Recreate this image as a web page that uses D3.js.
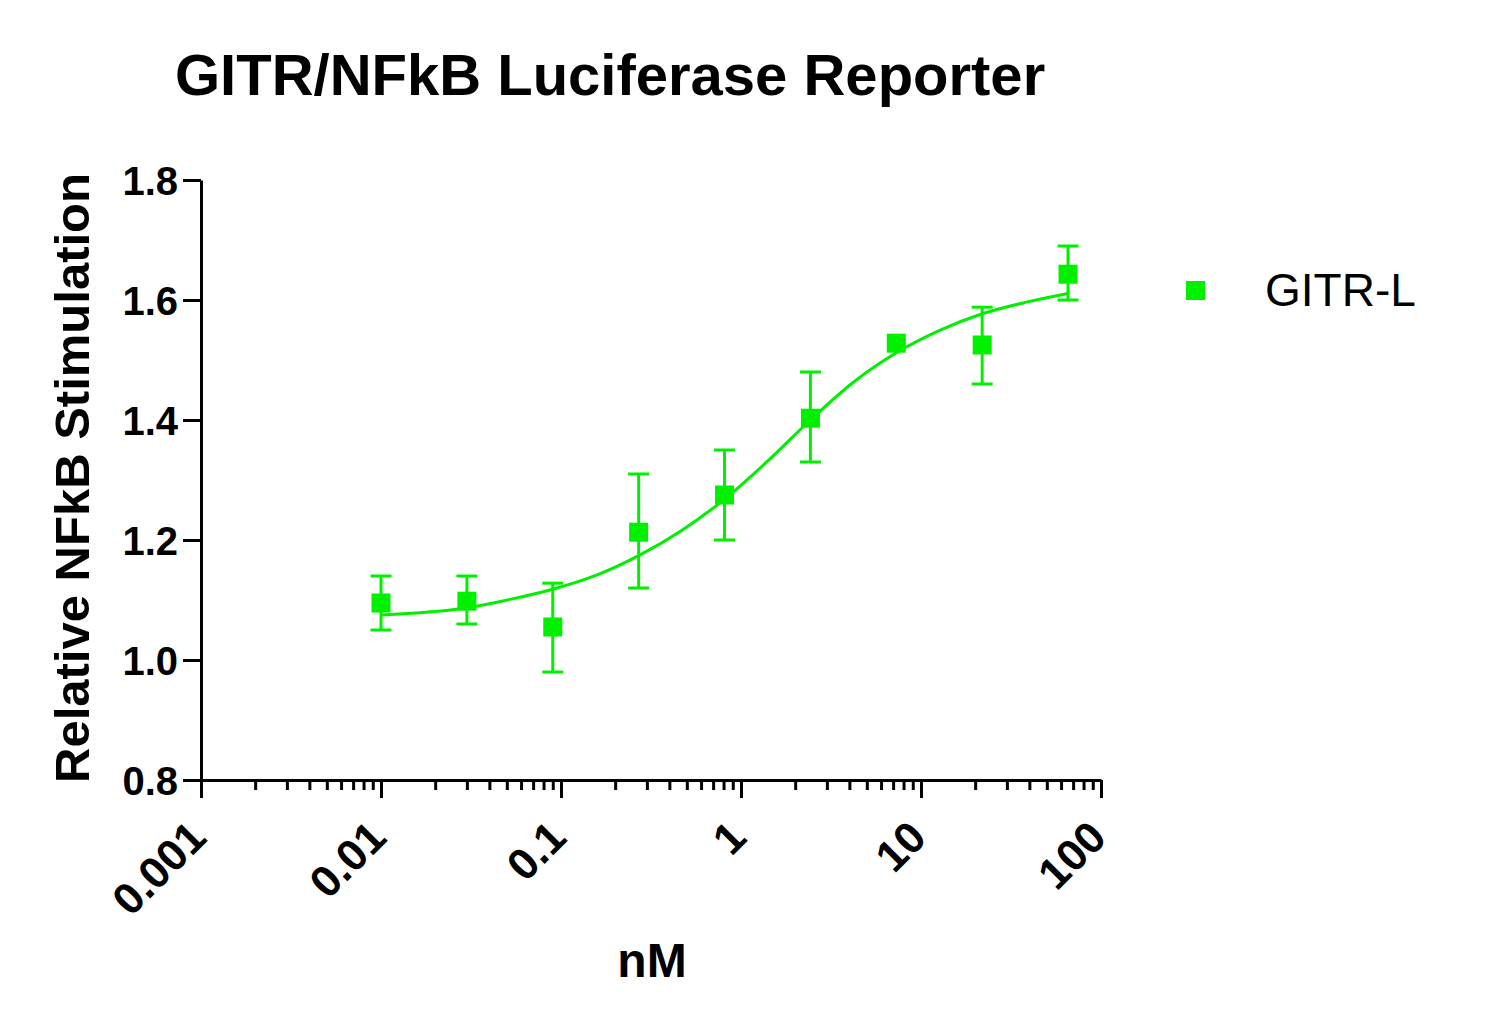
<!DOCTYPE html>
<html>
<head>
<meta charset="utf-8">
<script src="https://cdn.jsdelivr.net/npm/d3@7"></script>
<style>
  body { margin: 0; background: #fff; }
  svg { display: block; font-family: "Liberation Sans", Arial, sans-serif; }
</style>
</head>
<body>
<svg id="chart"></svg>
<script>
// data
var conc = [0.01, 0.03, 0.09, 0.27, 0.81, 2.43, 7.29, 21.87, 65.6];
var meanVals = [1.095, 1.098, 1.055, 1.213, 1.275, 1.403, 1.528, 1.525, 1.643];
var errLow = [1.05, 1.06, 0.98, 1.12, 1.20, 1.33, null, 1.46, 1.60];
var errHigh = [1.14, 1.14, 1.128, 1.31, 1.35, 1.48, null, 1.588, 1.69];

// fitted curve
var curveConc = [0.01, 0.03, 0.052, 0.09, 0.156, 0.27, 0.468, 0.81, 1.40, 2.43, 4.21, 7.29, 12.6, 21.9, 37.9, 65.6];
var curveVals = [1.075, 1.087, 1.101, 1.118, 1.141, 1.174, 1.216, 1.268, 1.331, 1.400, 1.463, 1.512, 1.549, 1.577, 1.596, 1.611];

var xTicks = [0.001, 0.01, 0.1, 1, 10, 100];
var xTickLabels = ["0.001", "0.01", "0.1", "1", "10", "100"];
var yTicks = [0.8, 1.0, 1.2, 1.4, 1.6, 1.8];
var seriesName = "GITR-L";
var titleText = "GITR/NFkB Luciferase Reporter";
var xTitle = "nM";
var yTitle = "Relative NFkB Stimulation";

var width = 1506, height = 1032;
var green = "#00f000";
var plotLeft = 201, plotRight = 1101, plotTop = 180, plotBottom = 780;

var svg = d3.select('#chart')
  .attr('width', width)
  .attr('height', height);

var x = d3.scaleLog().domain([0.001, 100]).range([plotLeft, plotRight]);
var y = d3.scaleLinear().domain([0.8, 1.8]).range([plotBottom, plotTop]);

// minor ticks on the log axis
var minorTicks = [];
for (var p = -3; p < 2; ++p) {
  for (var m = 2; m < 10; ++m) {
    minorTicks.push(m * Math.pow(10, p));
  }
}

var gxMinor = svg.append('g')
  .attr('transform', 'translate(0,' + plotBottom + ')')
  .call(d3.axisBottom(x).tickValues(minorTicks).tickSize(10).tickSizeOuter(0).tickFormat(''));
gxMinor.select('.domain').remove();

var gx = svg.append('g')
  .attr('transform', 'translate(0,' + plotBottom + ')')
  .call(d3.axisBottom(x).tickValues(xTicks).tickSize(18).tickSizeOuter(0)
    .tickFormat(function (d, i) { return xTickLabels[i]; }));

gx.selectAll('text')
  .attr('x', 0).attr('y', 0).attr('dy', 0)
  .attr('transform', 'translate(7,60) rotate(-45)')
  .style('text-anchor', 'end')
  .style('font-size', '44px');

var gy = svg.append('g')
  .attr('transform', 'translate(' + plotLeft + ',0)')
  .call(d3.axisLeft(y).tickValues(yTicks).tickSize(18).tickSizeOuter(0).tickFormat(d3.format('.1f')));

gy.selectAll('text')
  .attr('x', -23)
  .attr('dy', '0.36em')
  .style('font-size', '40px');

svg.selectAll('.domain, .tick line')
  .attr('stroke', '#000')
  .attr('stroke-width', 3);
svg.selectAll('.tick text')
  .attr('fill', '#000')
  .style('font-weight', 'bold');
svg.selectAll('g').attr('font-family', null).attr('font-size', null);

// fit line
var line = d3.line()
  .x(function (d, i) { return x(curveConc[i]); })
  .y(function (d) { return y(d); })
  .curve(d3.curveMonotoneX);

svg.append('path')
  .datum(curveVals)
  .attr('d', line)
  .attr('fill', 'none')
  .attr('stroke', green)
  .attr('stroke-width', 3);

// error bars
var pts = conc.map(function (c, i) {
  return { c: c, v: meanVals[i], lo: errLow[i], hi: errHigh[i] };
});
var bars = svg.append('g').selectAll('g')
  .data(pts.filter(function (d) { return d.lo !== null; }))
  .enter().append('g')
  .attr('stroke', green)
  .attr('stroke-width', 3);

bars.append('line')
  .attr('x1', function (d) { return x(d.c); })
  .attr('x2', function (d) { return x(d.c); })
  .attr('y1', function (d) { return y(d.lo); })
  .attr('y2', function (d) { return y(d.hi); });
bars.append('line')
  .attr('x1', function (d) { return x(d.c) - 10.5; })
  .attr('x2', function (d) { return x(d.c) + 10.5; })
  .attr('y1', function (d) { return y(d.lo); })
  .attr('y2', function (d) { return y(d.lo); });
bars.append('line')
  .attr('x1', function (d) { return x(d.c) - 10.5; })
  .attr('x2', function (d) { return x(d.c) + 10.5; })
  .attr('y1', function (d) { return y(d.hi); })
  .attr('y2', function (d) { return y(d.hi); });

// markers
var ms = 19;
svg.append('g').selectAll('rect')
  .data(pts)
  .enter().append('rect')
  .attr('x', function (d) { return x(d.c) - ms / 2; })
  .attr('y', function (d) { return y(d.v) - ms / 2; })
  .attr('width', ms)
  .attr('height', ms)
  .attr('fill', green);

// legend
svg.append('rect')
  .attr('x', 1186).attr('y', 281)
  .attr('width', ms).attr('height', ms)
  .attr('fill', green);
svg.append('text')
  .attr('x', 1265).attr('y', 306)
  .style('font-size', '46px')
  .text(seriesName);

// titles
svg.append('text')
  .attr('x', 175).attr('y', 95)
  .style('font-size', '58px')
  .style('font-weight', 'bold')
  .text(titleText);

svg.append('text')
  .attr('x', 652).attr('y', 977)
  .attr('text-anchor', 'middle')
  .style('font-size', '48px')
  .style('font-weight', 'bold')
  .text(xTitle);

svg.append('text')
  .attr('transform', 'translate(89,478) rotate(-90)')
  .attr('text-anchor', 'middle')
  .style('font-size', '49px')
  .style('font-weight', 'bold')
  .text(yTitle);
</script>
</body>
</html>
